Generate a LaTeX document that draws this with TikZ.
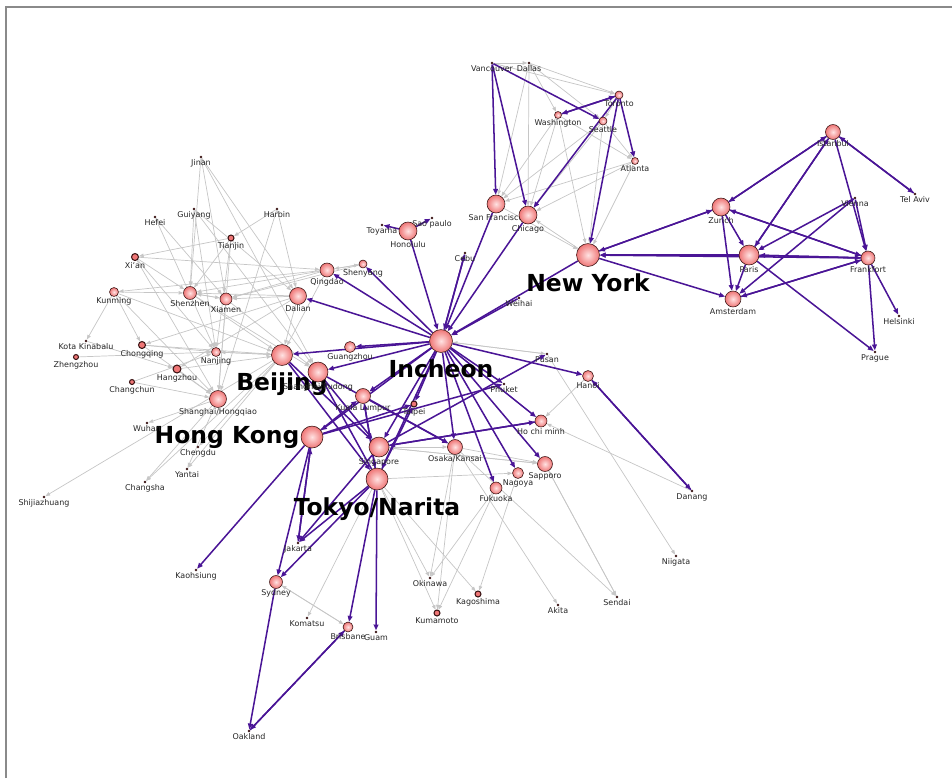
\documentclass[tikz,border=0pt]{standalone}
\usepackage{fontspec}
\setmainfont{DejaVu Sans}
\usetikzlibrary{arrows.meta, backgrounds}
\usepackage{xcolor}
\definecolor{routepurple}{HTML}{4A1596}
\definecolor{routegray}{HTML}{C6C6C6}
\definecolor{citydark}{HTML}{3B1414}
\definecolor{citypink}{HTML}{EF7676}
\definecolor{cityhi}{HTML}{FFE2E2}
\definecolor{framegray}{HTML}{8A8A8A}

\tikzset{
  city/.style={circle, draw=citydark, line width=0.5pt, inner sep=0pt,
    inner color=cityhi, outer color=citypink, minimum size=#1*0.85pt},
  ringcity/.style={circle, draw=citydark, line width=0.9pt, inner sep=0pt,
    fill=citypink, minimum size=#1*0.85pt},
  dotcity/.style={circle, fill=citydark, inner sep=0pt, minimum size=2.4pt},
  lbl/.style={font=\fontsize{6.8}{7.5}\selectfont, inner sep=0.6pt, text=black!85},
  biglbl/.style={font=\fontsize{20}{22}\selectfont\bfseries, inner sep=1pt},
  nm/.style={label={[lbl]below:#1}},
  hubname/.style={label={[biglbl, label distance=5pt]below:#1}},
  route/.style={routepurple, line width=1.3pt, -{Triangle[length=5pt,width=4pt]}},
  link/.style={routegray, line width=0.6pt, -{Triangle[length=4pt,width=3pt]}}
}

\begin{document}
\begin{tikzpicture}[x=0.03cm, y=-0.03cm]
  \useasboundingbox (0,0) rectangle (952,778);

  % Hubs
  \node[city=23, hubname=Incheon] (incheon) at (441,341) {};
  \node[city=23, hubname=New York] (newyork) at (588,255) {};
  \node[city=21, hubname=Beijing] (beijing) at (282,355) {};
  \node[city=22, label={[biglbl]left:Hong Kong}] (hongkong) at (312,437) {};
  \node[city=22, hubname=Tokyo/Narita] (tokyo) at (377,479) {};

  % East and South-East Asia
  \node[city=20, nm=Shanghai/Pudong] (pudong) at (318,372) {};
  \node[city=20, nm=Singapore] (singapore) at (379,447) {};
  \node[city=15, nm=Kuala Lumpur] (kl) at (363,396) {};
  \node[city=11, nm=Guangzhou] (guangzhou) at (350,347) {};
  \node[ringcity=6, nm=Taipei] (taipei) at (414,404) {};
  \node[city=15, nm=Osaka/Kansai] (osaka) at (455,447) {};
  \node[city=15, nm=Sapporo] (sapporo) at (545,464) {};
  \node[city=11, nm=Nagoya] (nagoya) at (518,473) {};
  \node[city=12, nm=Fukuoka] (fukuoka) at (496,488) {};
  \node[city=12, nm=Ho chi minh] (hochiminh) at (541,421) {};
  \node[city=11, nm=Hanoi] (hanoi) at (588,376) {};
  \node[dotcity, nm=Phuket] (phuket) at (504,384) {};
  \node[dotcity, nm=Pusan] (pusan) at (547,354) {};
  \node[dotcity, nm=Danang] (danang) at (692,491) {};
  \node[dotcity, nm=Niigata] (niigata) at (676,556) {};
  \node[dotcity, nm=Okinawa] (okinawa) at (430,578) {};
  \node[ringcity=6, nm=Kagoshima] (kagoshima) at (478,594) {};
  \node[ringcity=6, nm=Kumamoto] (kumamoto) at (437,613) {};
  \node[dotcity, nm=Akita] (akita) at (558,605) {};
  \node[dotcity, nm=Sendai] (sendai) at (617,597) {};
  \node[dotcity, nm=Jakarta] (jakarta) at (298,543) {};
  \node[dotcity, nm=Kaohsiung] (kaohsiung) at (196,570) {};
  \node[city=13, nm=Sydney] (sydney) at (276,582) {};
  \node[dotcity, nm=Komatsu] (komatsu) at (307,618) {};
  \node[city=10, nm=Brisbane] (brisbane) at (348,627) {};
  \node[dotcity, nm=Guam] (guam) at (376,632) {};
  \node[dotcity, nm=Oakland] (oakland) at (249,731) {};
  \node[dotcity, nm=Cebu] (cebu) at (465,253) {};
  \node[dotcity, nm=Weihai] (weihai) at (519,298) {};

  % Pacific and America
  \node[dotcity, nm=Toyama] (toyama) at (382,225) {};
  \node[dotcity, nm=Sao paulo] (saopaulo) at (432,218) {};
  \node[city=18, nm=Honolulu] (honolulu) at (408,231) {};
  \node[city=18, nm=San Francisco] (sanfrancisco) at (496,204) {};
  \node[city=18, nm=Chicago] (chicago) at (528,215) {};
  \node[dotcity, nm=Vancouver] (vancouver) at (492,63) {};
  \node[dotcity, nm=Dallas] (dallas) at (529,63) {};
  \node[city=8, nm=Toronto] (toronto) at (619,95) {};
  \node[city=7, nm=Washington] (washington) at (558,115) {};
  \node[city=8, nm=Seattle] (seattle) at (603,121) {};
  \node[city=7, nm=Atlanta] (atlanta) at (635,161) {};

  % Europe
  \node[city=15, nm=Istanbul] (istanbul) at (833,132) {};
  \node[dotcity, nm=Tel Aviv] (telaviv) at (915,194) {};
  \node[city=18, nm=Zurich] (zurich) at (721,207) {};
  \node[dotcity, nm=Vienna] (vienna) at (855,198) {};
  \node[city=20, nm=Paris] (paris) at (749,255) {};
  \node[city=14, nm=Frankfort] (frankfort) at (868,258) {};
  \node[city=16, nm=Amsterdam] (amsterdam) at (733,299) {};
  \node[dotcity, nm=Helsinki] (helsinki) at (899,316) {};
  \node[dotcity, nm=Prague] (prague) at (875,352) {};

  % China
  \node[dotcity, nm=Jinan] (jinan) at (201,157) {};
  \node[dotcity, nm=Hefei] (hefei) at (155,217) {};
  \node[dotcity, nm=Guiyang] (guiyang) at (194,209) {};
  \node[dotcity, nm=Harbin] (harbin) at (277,209) {};
  \node[ringcity=6, nm=Tianjin] (tianjin) at (231,238) {};
  \node[ringcity=7, nm=Xi'an] (xian) at (135,257) {};
  \node[city=9, nm=Kunming] (kunming) at (114,292) {};
  \node[city=13, nm=Shenzhen] (shenzhen) at (190,293) {};
  \node[city=12, nm=Xiamen] (xiamen) at (226,299) {};
  \node[city=14, nm=Qingdao] (qingdao) at (327,270) {};
  \node[city=17, nm=Dalian] (dalian) at (298,296) {};
  \node[city=8, nm=Shenyang] (shenyang) at (363,264) {};
  \node[dotcity, nm=Kota Kinabalu] (kotakinabalu) at (86,341) {};
  \node[ringcity=5, nm=Zhengzhou] (zhengzhou) at (76,357) {};
  \node[ringcity=7, nm=Chongqing] (chongqing) at (142,345) {};
  \node[city=9, nm=Nanjing] (nanjing) at (216,352) {};
  \node[ringcity=8, nm=Hangzhou] (hangzhou) at (177,369) {};
  \node[ringcity=5, nm=Changchun] (changchun) at (132,382) {};
  \node[city=17, nm=Shanghai/Hongqiao] (hongqiao) at (218,399) {};
  \node[dotcity, nm=Wuhan] (wuhan) at (147,423) {};
  \node[dotcity, nm=Chengdu] (chengdu) at (198,447) {};
  \node[dotcity, nm=Yantai] (yantai) at (187,469) {};
  \node[dotcity, nm=Changsha] (changsha) at (145,482) {};
  \node[dotcity, nm=Shijiazhuang] (shijiazhuang) at (44,497) {};

  \begin{scope}[on background layer]
    % Frame
    \draw[framegray, line width=1.2pt] (6,778) -- (6,7) -- (952,7);

    % Domestic and regional links
    \foreach \a/\b in {vancouver/toronto, vancouver/dallas, dallas/toronto,
      dallas/washington, dallas/seattle, dallas/sanfrancisco, dallas/chicago,
      washington/sanfrancisco, washington/chicago, washington/newyork,
      seattle/sanfrancisco, seattle/chicago, seattle/newyork, atlanta/chicago,
      atlanta/newyork, atlanta/sanfrancisco, seattle/atlanta, washington/atlanta,
      sanfrancisco/newyork, newyork/chicago, toronto/seattle,
      incheon/pusan, pusan/incheon, osaka/okinawa, osaka/kumamoto, osaka/akita,
      osaka/sendai, fukuoka/okinawa, fukuoka/kumamoto, nagoya/kagoshima,
      tokyo/okinawa, tokyo/kagoshima, tokyo/kumamoto, tokyo/komatsu,
      sapporo/sendai, sendai/sapporo, pusan/niigata, danang/hochiminh,
      hanoi/hochiminh, sydney/brisbane, brisbane/sydney, singapore/sapporo,
      sapporo/singapore, singapore/osaka, osaka/sapporo, tokyo/nagoya,
      jinan/shenzhen, jinan/xiamen, jinan/dalian, jinan/pudong, hefei/xiamen,
      hefei/nanjing, guiyang/shenzhen, guiyang/nanjing, guiyang/dalian,
      guiyang/pudong, harbin/dalian, harbin/hongqiao, harbin/tianjin,
      tianjin/xian, tianjin/shenzhen, tianjin/nanjing, tianjin/hongqiao,
      xian/qingdao, xian/shenzhen, xian/nanjing, xian/hongqiao,
      kunming/shenzhen, kunming/kotakinabalu, kunming/beijing, kunming/chongqing,
      kunming/hongqiao, shenzhen/xiamen, xiamen/shenzhen, qingdao/shenzhen,
      qingdao/xiamen, qingdao/kunming, dalian/xiamen, dalian/shenzhen,
      dalian/chongqing, dalian/hangzhou, shenyang/qingdao, qingdao/shenyang,
      shenyang/xiamen, chongqing/nanjing, chongqing/hongqiao, chongqing/beijing,
      nanjing/beijing, beijing/nanjing, hangzhou/beijing, hangzhou/hongqiao,
      changchun/hongqiao, changchun/nanjing, zhengzhou/nanjing,
      kotakinabalu/hangzhou, hongqiao/wuhan, hongqiao/changsha, hongqiao/yantai,
      beijing/chengdu, beijing/yantai, beijing/changsha, beijing/shijiazhuang,
      qingdao/beijing, dalian/beijing, shenzhen/beijing, xiamen/pudong,
      shenzhen/pudong, xiamen/hongqiao}
      \draw[link] (\a) -- (\b);

    % Korean Air routes
    \foreach \a/\b in {vancouver/sanfrancisco, vancouver/chicago, vancouver/seattle,
      toronto/washington, washington/toronto, toronto/atlanta, toronto/newyork,
      toronto/chicago, sanfrancisco/incheon, chicago/incheon, newyork/incheon,
      weihai/incheon, honolulu/incheon, cebu/incheon, incheon/cebu,
      honolulu/toyama, honolulu/saopaulo,
      newyork/zurich, zurich/newyork, paris/newyork, frankfort/newyork,
      newyork/amsterdam,
      istanbul/zurich, zurich/istanbul, istanbul/paris, paris/istanbul,
      istanbul/telaviv, telaviv/istanbul, istanbul/frankfort, vienna/frankfort,
      vienna/paris, vienna/amsterdam, zurich/frankfort, frankfort/zurich,
      paris/frankfort, frankfort/paris, frankfort/amsterdam, amsterdam/frankfort,
      zurich/amsterdam, zurich/paris, paris/amsterdam, paris/prague,
      frankfort/prague, frankfort/helsinki,
      incheon/shenyang, incheon/qingdao, incheon/dalian, incheon/beijing,
      incheon/guangzhou, incheon/pudong, incheon/hongkong, incheon/kl,
      incheon/taipei, incheon/singapore, incheon/tokyo, incheon/osaka,
      incheon/fukuoka, incheon/nagoya, incheon/sapporo, incheon/hochiminh,
      incheon/hanoi, incheon/phuket,
      beijing/tokyo, beijing/singapore, pudong/singapore, pudong/osaka,
      kl/osaka, kl/tokyo, hongkong/kl, tokyo/kl, hongkong/phuket, tokyo/taipei,
      singapore/hochiminh, hochiminh/singapore, singapore/pusan, tokyo/pudong,
      hongkong/taipei,
      hongkong/kaohsiung, hongkong/jakarta, tokyo/jakarta, singapore/jakarta,
      jakarta/hongkong, hongkong/sydney, tokyo/sydney, tokyo/brisbane,
      tokyo/guam, sydney/oakland, brisbane/oakland, oakland/brisbane,
      hanoi/danang, danang/hanoi}
      \draw[route] (\a) -- (\b);
  \end{scope}
\end{tikzpicture}
\end{document}
